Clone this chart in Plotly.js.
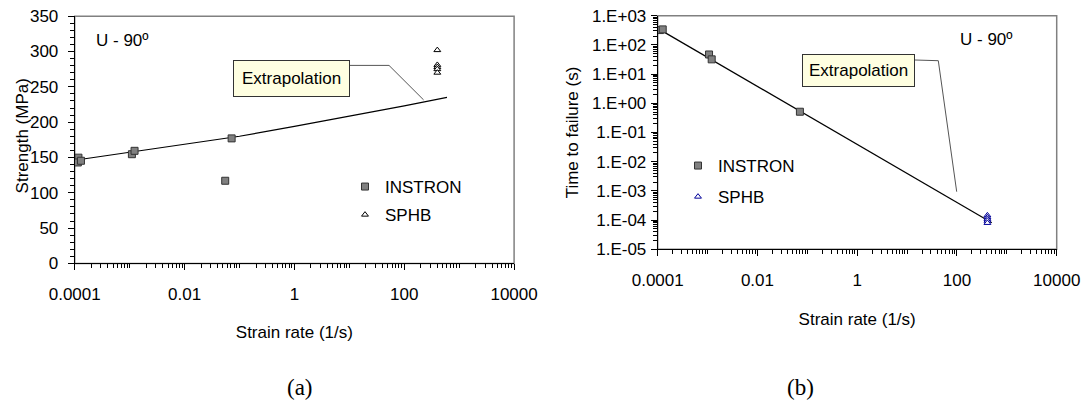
<!DOCTYPE html>
<html>
<head>
<meta charset="utf-8">
<script src="https://cdn.plot.ly/plotly-3.0.1.min.js"></script>
<style>html,body{margin:0;padding:0;background:#fff;}#chart{width:1082px;height:400px;}</style>
</head>
<body>
<div id="chart"></div>
<script>
// ---- Data ----
// (a) Strength vs strain rate
const instronRateA = [1.17e-4, 1.14e-4, 1.30e-4, 1.10e-3, 1.23e-3, 0.055, 0.072];
const instronStrength = [149.7, 142.9, 145.3, 154.6, 159.4, 117, 177];
const sphbRateA = [400, 400, 400, 400, 400];
const sphbStrength = [302, 281, 278, 275, 270];
const fitRateA = [1e-4, 1e-3, 1e-2, 0.1, 1, 10, 100, 600];
const fitStrength = [146, 157, 168, 180, 194, 208, 223, 235];

// (b) Time to failure vs strain rate
const instronRateB = [1.11e-4, 1.26e-4, 1.07e-3, 1.21e-3, 0.071];
const instronTime = [322, 340, 47, 32, 0.515];
const sphbRateB = [408, 408, 408, 408, 408];
const sphbTime = [1.45e-4, 1.25e-4, 1.1e-4, 9.5e-5, 8e-5];
const fitRateB = [1e-4, 500];
const fitTime = [368, 8.1e-5];

// Tick labels
const xTickVals = [1e-4, 1e-2, 1, 100, 1e4];
const xTickText = ['0.0001', '0.01', '1', '100', '10000'];
const yTickValsB = [1e-5, 1e-4, 1e-3, 1e-2, 1e-1, 1, 10, 100, 1000];
const yTickTextB = ['1.E-05', '1.E-04', '1.E-03', '1.E-02', '1.E-01', '1.E+00', '1.E+01', '1.E+02', '1.E+03'];

// minor tick positions on log axes (1..9 of every decade)
function logMinor(lo, hi) {
  const v = [];
  for (let e = lo; e < hi; e++) for (let m = 1; m <= 9; m++) v.push(m * Math.pow(10, e));
  v.push(Math.pow(10, hi));
  return v;
}

const W = 1082, H = 400;
const px = x => x / W, py = y => 1 - y / H;
const FONT = 'Liberation Sans, Arial, sans-serif';

const traces = [
  {x: fitRateA, y: fitStrength, xaxis: 'x', yaxis: 'y', mode: 'lines', line: {color: '#000', width: 1.2}, showlegend: false, hoverinfo: 'skip'},
  {x: instronRateA, y: instronStrength, xaxis: 'x', yaxis: 'y', mode: 'markers', name: 'INSTRON', legend: 'legend', legendgroup: 'a1',
   marker: {symbol: 'square', size: 7, color: '#808080', line: {color: '#333', width: 1}}},
  {x: sphbRateA, y: sphbStrength, xaxis: 'x', yaxis: 'y', mode: 'markers', name: 'SPHB', legend: 'legend', legendgroup: 'a2',
   marker: {symbol: 'triangle-up', size: 6, color: '#fff', line: {color: '#000', width: 1}}},
  {x: fitRateB, y: fitTime, xaxis: 'x2', yaxis: 'y2', mode: 'lines', line: {color: '#000', width: 1.2}, showlegend: false, hoverinfo: 'skip'},
  {x: instronRateB, y: instronTime, xaxis: 'x2', yaxis: 'y2', mode: 'markers', name: 'INSTRON', legend: 'legend2', legendgroup: 'b1',
   marker: {symbol: 'square', size: 7, color: '#808080', line: {color: '#333', width: 1}}},
  {x: sphbRateB, y: sphbTime, xaxis: 'x2', yaxis: 'y2', mode: 'markers', name: 'SPHB', legend: 'legend2', legendgroup: 'b2',
   marker: {symbol: 'triangle-up', size: 6, color: '#fff', line: {color: '#000099', width: 1}}}
];

const axCommon = {
  showgrid: false, zeroline: false, showline: true, linecolor: '#000', linewidth: 1,
  ticks: 'outside', ticklen: 6, tickcolor: '#000', tickfont: {family: FONT, size: 17, color: '#000'}
};

const layout = {
  width: W, height: H,
  margin: {l: 0, r: 0, t: 0, b: 0},
  paper_bgcolor: '#fff', plot_bgcolor: '#fff',
  font: {family: FONT, color: '#000'},
  xaxis: Object.assign({}, axCommon, {
    type: 'log', range: [-4, 4], domain: [px(74.7), px(514.1)], anchor: 'y',
    tickmode: 'array', tickvals: xTickVals, ticktext: xTickText, ticklabelstandoff: 9,
    minor: {tickmode: 'array', tickvals: logMinor(-4, 4), ticks: 'outside', ticklen: 4, tickcolor: '#000'},
    title: {text: 'Strain rate (1/s)', font: {family: FONT, size: 17}, standoff: 23}
  }),
  yaxis: Object.assign({}, axCommon, {
    range: [0, 350], domain: [py(263.4), py(16.2)], anchor: 'x',
    dtick: 50, ticklabelstandoff: 6,
    minor: {dtick: 10, ticks: 'outside', ticklen: 4, tickcolor: '#000'}
  }),
  xaxis2: Object.assign({}, axCommon, {
    type: 'log', range: [-4, 4], domain: [px(657.7), px(1056.7)], anchor: 'y2',
    tickmode: 'array', tickvals: xTickVals, ticktext: xTickText, ticklabelstandoff: 9,
    minor: {tickmode: 'array', tickvals: logMinor(-4, 4), ticks: 'outside', ticklen: 4, tickcolor: '#000'},
    title: {text: 'Strain rate (1/s)', font: {family: FONT, size: 17}, standoff: 24}
  }),
  yaxis2: Object.assign({}, axCommon, {
    type: 'log', range: [-5, 3], domain: [py(249.3), py(15.7)], anchor: 'x2',
    tickmode: 'array', tickvals: yTickValsB, ticktext: yTickTextB, ticklabelstandoff: 1,
    minor: {tickmode: 'array', tickvals: logMinor(-5, 3), ticks: 'outside', ticklen: 4, tickcolor: '#000'},
    title: {text: 'Time to failure (s)', font: {family: FONT, size: 17}, standoff: 8}
  }),
  legend: {x: px(345), y: py(169), xanchor: 'left', yanchor: 'top', bgcolor: 'rgba(0,0,0,0)',
           font: {family: FONT, size: 17}, tracegroupgap: 3, itemwidth: 30},
  legend2: {x: px(678), y: py(148), xanchor: 'left', yanchor: 'top', bgcolor: 'rgba(0,0,0,0)',
           font: {family: FONT, size: 17}, tracegroupgap: 6, itemwidth: 30},
  shapes: [
    {type: 'rect', xref: 'x domain', yref: 'y domain', x0: 0, x1: 1, y0: 0, y1: 1, line: {color: '#808080', width: 1.5}, layer: 'below'},
    {type: 'rect', xref: 'x2 domain', yref: 'y2 domain', x0: 0, x1: 1, y0: 0, y1: 1, line: {color: '#808080', width: 1.5}, layer: 'below'},
    {type: 'path', xref: 'paper', yref: 'paper',
     path: `M ${px(349)} ${py(65.4)} L ${px(389)} ${py(65.4)} L ${px(423.6)} ${py(99.9)}`, line: {color: '#555', width: 1}},
    {type: 'path', xref: 'paper', yref: 'paper',
     path: `M ${px(915)} ${py(60)} L ${px(938.3)} ${py(60.7)} L ${px(956.7)} ${py(191.7)}`, line: {color: '#555', width: 1}}
  ],
  annotations: [
    {text: 'Strength (MPa)', xref: 'paper', yref: 'paper', x: px(22.4), y: py(136), xanchor: 'center', yanchor: 'middle', textangle: -90, showarrow: false, font: {family: FONT, size: 17}},
    {text: 'U - 90º', xref: 'paper', yref: 'paper', x: px(93.7), y: py(40.6), xanchor: 'left', yanchor: 'middle', showarrow: false, font: {family: FONT, size: 17}},
    {text: 'U - 90º', xref: 'paper', yref: 'paper', x: px(958), y: py(40), xanchor: 'left', yanchor: 'middle', showarrow: false, font: {family: FONT, size: 17}},
    {text: 'Extrapolation', xref: 'paper', yref: 'paper', x: px(291), y: py(78.3), xanchor: 'center', yanchor: 'middle', showarrow: false,
     font: {family: FONT, size: 17}, bgcolor: '#FFFFE1', bordercolor: '#333', borderwidth: 1, borderpad: 8},
    {text: 'Extrapolation', xref: 'paper', yref: 'paper', x: px(858.3), y: py(70.5), xanchor: 'center', yanchor: 'middle', showarrow: false,
     font: {family: FONT, size: 17}, bgcolor: '#FFFFE1', bordercolor: '#333', borderwidth: 1, borderpad: 6},
    {text: '(a)', xref: 'paper', yref: 'paper', x: px(300), y: py(387), xanchor: 'center', yanchor: 'middle', showarrow: false,
     font: {family: 'Liberation Serif, Times New Roman, serif', size: 23}},
    {text: '(b)', xref: 'paper', yref: 'paper', x: px(800), y: py(387), xanchor: 'center', yanchor: 'middle', showarrow: false,
     font: {family: 'Liberation Serif, Times New Roman, serif', size: 23}}
  ]
};

Plotly.newPlot('chart', traces, layout, {staticPlot: true, displayModeBar: false});
</script>
</body>
</html>
